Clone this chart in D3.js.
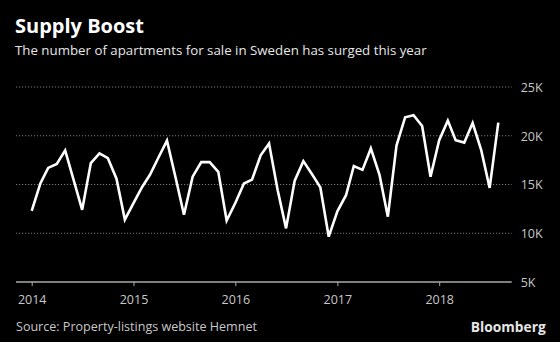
<!DOCTYPE html>
<html>
<head>
<meta charset="utf-8">
<script src="https://cdn.jsdelivr.net/npm/d3@7"></script>
<style>
  html, body { margin: 0; padding: 0; background: #000; }
  svg { display: block; font-family: "Open Sans", sans-serif; }
</style>
</head>
<body>
<div id="vis"></div>
<script>
// monthly listings, thousands, Jan 2014 .. Aug 2018
const values = [
  12.3, 15.1, 16.7, 17.1, 18.5, 15.4, 12.4, 17.2, 18.2, 17.7, 15.6, 11.4,
  13.1, 14.75, 16.0, 17.8, 19.5, 15.7, 11.9, 15.8, 17.3, 17.3, 16.3, 11.3,
  13.1, 15.1, 15.5, 18.0, 19.2, 14.4, 10.5, 15.4, 17.4, 16.1, 14.7, 9.65,
  12.25, 13.9, 16.9, 16.5, 18.7, 16.0, 11.7, 19.0, 21.9, 22.1, 21.0, 15.8,
  19.55, 21.55, 19.55, 19.3, 21.3, 18.5, 14.65, 21.35
];
const months = d3.timeMonth.range(new Date(2014, 0, 1), new Date(2018, 8, 1));
const yearTicks = [2014, 2015, 2016, 2017, 2018];
const yTicks = [5, 10, 15, 20, 25];

function fitText(sel, target) {
  // shrink/grow font so the text spans the width
  const fs = parseFloat(sel.attr("font-size"));
  const w = sel.node().getComputedTextLength();
  sel.attr("font-size", (fs * target / w).toFixed(2));
}

function createVis() {
  const width = 560;
  const height = 342;

  const svg = d3.select("#vis")
    .append("svg")
    .attr("width", width)
    .attr("height", height)
    .attr("viewBox", [0, 0, width, height]);

  svg.append("rect")
    .attr("width", width)
    .attr("height", height)
    .attr("fill", "#000");

  const x = d3.scaleTime()
    .domain([months[0], months[months.length - 1]])
    .range([31.7, 498.3]);

  const y = d3.scaleLinear()
    .domain([5, 25])
    .range([282, 87]);

  const left = 16, right = 511.7;

  // dotted gridlines
  svg.append("g")
    .selectAll("line")
    .data(yTicks.filter(d => d > 5))
    .join("line")
    .attr("x1", left)
    .attr("x2", right)
    .attr("y1", d => y(d))
    .attr("y2", d => y(d))
    .attr("stroke", "#777")
    .attr("stroke-width", 1)
    .attr("stroke-dasharray", "1.2,1.8");

  // y axis on the right, labels only
  const yAxis = svg.append("g")
    .attr("transform", `translate(${right + 9},0)`)
    .call(d3.axisRight(y).tickValues(yTicks).tickSize(0).tickFormat(d => d + "K"));
  yAxis.select(".domain").remove();
  yAxis.selectAll("text")
    .attr("x", 0)
    .attr("dy", "0.35em")
    .attr("fill", "#c8c8c8")
    .attr("font-size", 12.5)
    .attr("font-family", "Open Sans, sans-serif");

  // x axis
  const xAxis = svg.append("g")
    .attr("transform", `translate(0,${y(5)})`)
    .call(d3.axisBottom(x)
      .tickValues(yearTicks.map(d => new Date(d, 0, 1)))
      .tickSize(4)
      .tickFormat(d3.timeFormat("%Y")));
  xAxis.select(".domain").remove();
  xAxis.append("line")
    .attr("x1", left)
    .attr("x2", right)
    .attr("stroke", "#aaa")
    .attr("stroke-width", 1.3);
  xAxis.selectAll(".tick line").attr("stroke", "#aaa");
  xAxis.selectAll(".tick text")
    .attr("y", 22)
    .attr("dy", 0)
    .attr("fill", "#c8c8c8")
    .attr("font-size", 12.5)
    .attr("font-family", "Open Sans, sans-serif");

  // the line
  const line = d3.line()
    .x((d, i) => x(months[i]))
    .y(d => y(d));

  svg.append("path")
    .datum(values)
    .attr("fill", "none")
    .attr("stroke", "#fff")
    .attr("stroke-width", 2.6)
    .attr("stroke-linejoin", "miter")
    .attr("d", line);

  // titles
  const title = svg.append("text")
    .attr("x", 15)
    .attr("y", 33.3)
    .attr("fill", "#fff")
    .attr("font-weight", "bold")
    .attr("font-size", 19)
    .text("Supply Boost");
  fitText(title, 129);

  const sub = svg.append("text")
    .attr("x", 15)
    .attr("y", 54.5)
    .attr("fill", "#e6e6e6")
    .attr("font-size", 14)
    .text("The number of apartments for sale in Sweden has surged this year");
  fitText(sub, 412);

  const source = svg.append("text")
    .attr("x", 16)
    .attr("y", 330.5)
    .attr("fill", "#c8c8c8")
    .attr("font-size", 13)
    .text("Source: Property-listings website Hemnet");
  fitText(source, 241);

  const brand = svg.append("text")
    .attr("x", 545.7)
    .attr("y", 331.7)
    .attr("text-anchor", "end")
    .attr("fill", "#e6e6e6")
    .attr("font-weight", "bold")
    .attr("font-size", 14)
    .text("Bloomberg");
  fitText(brand, 75);
}

window.addEventListener("load", createVis);
</script>
</body>
</html>
